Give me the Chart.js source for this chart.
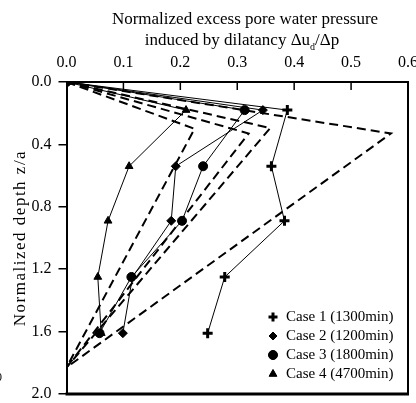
<!DOCTYPE html>
<html>
<head>
<meta charset="utf-8">
<script src="https://cdn.jsdelivr.net/npm/chart.js@4"></script>
<style>
  html, body { margin: 0; padding: 0; background: #fff; overflow: hidden; }
  #wrap { width: 416px; height: 403px; }
</style>
</head>
<body>
<div id="wrap"><canvas id="graph1"></canvas></div>
<script>
// normalized depth z/a of the measuring points
var depths = [0, 0.18, 0.54, 0.89, 1.25, 1.61];
// normalized excess pore water pressure du_d/dp
var case1 = [0, 0.388, 0.36, 0.383, 0.278, 0.248];
var case2 = [0, 0.345, 0.192, 0.184, 0.116, 0.099];
var case3 = [0, 0.313, 0.24, 0.203, 0.114, 0.058];
var case4 = [0, 0.21, 0.11, 0.073, 0.055, 0.061];
var caseLabels = ['Case 1 (1300min)', 'Case 2 (1200min)', 'Case 3 (1800min)', 'Case 4 (4700min)'];
var caseMarkers = ['cross', 'rectRot', 'circle', 'triangle'];

// dashed (predicted) profiles: 0 at surface, peak, back to 0 at base
var dashPeakX = [0.225, 0.32, 0.358, 0.57];
var dashPeakZ = [0.30, 0.33, 0.295, 0.33];
var dashBaseZ = 1.83;

var xTicks = [0, 0.1, 0.2, 0.3, 0.4, 0.5, 0.6];
var yTicks = [0, 0.4, 0.8, 1.2, 1.6, 2.0];

var ctx = document.getElementById('graph1');
var serif = 'Liberation Serif';

var datasets = [];
dashPeakX.forEach(function(px, i) {
    datasets.push({
        label: 'dash' + i,
        data: [{x: 0, y: 0}, {x: px, y: dashPeakZ[i]}, {x: 0, y: dashBaseZ}],
        showLine: true,
        borderColor: '#000',
        borderWidth: 2,
        borderDash: [9, 5],
        pointRadius: 0
    });
});
[case1, case2, case3, case4].forEach(function(vals, i) {
    datasets.push({
        label: caseLabels[i],
        data: vals.map(function(v, j) { return {x: v, y: depths[j]}; }),
        showLine: true,
        borderColor: '#000',
        backgroundColor: '#000',
        borderWidth: 1,
        pointStyle: caseMarkers[i],
        pointRadius: i == 0 ? 5 : 4.5,
        pointBorderWidth: i == 0 ? 3 : 1
    });
});

var extras = {
    id: 'extras',
    afterDraw: function(chart) {
        var c = chart.ctx, a = chart.chartArea, xs = chart.scales.x, ys = chart.scales.y;
        var yb = ys.getPixelForValue(2.0);
        c.save();
        c.strokeStyle = '#000';
        c.fillStyle = '#000';
        // right frame
        c.fillRect(a.right - 1, a.top, 2, yb - a.top + 1);
        // inward ticks on the top axis
        c.lineWidth = 1.5;
        xTicks.slice(1).forEach(function(v) {
            var p = xs.getPixelForValue(v);
            c.beginPath();
            c.moveTo(p, a.top);
            c.lineTo(p, a.top + 8);
            c.stroke();
        });
        // x title (two lines, subscript d)
        c.textBaseline = 'middle';
        c.textAlign = 'center';
        c.font = '17px ' + serif;
        c.fillText('Normalized excess pore water pressure', 245, 20);
        var p1 = 'induced by dilatancy \u0394u', p2 = 'd', p3 = '/\u0394p';
        c.font = '17px ' + serif;
        var w1 = c.measureText(p1).width, w3 = c.measureText(p3).width;
        c.font = '10px ' + serif;
        var w2 = c.measureText(p2).width;
        var x0 = 242 - (w1 + w2 + w3) / 2;
        c.textAlign = 'left';
        c.font = '17px ' + serif;
        c.fillText(p1, x0, 41);
        c.font = '10px ' + serif;
        c.fillText(p2, x0 + w1, 47);
        c.font = '17px ' + serif;
        c.fillText(p3, x0 + w1 + w2, 41);
        // y title, letter spaced
        c.save();
        c.translate(21, 238);
        c.rotate(-Math.PI / 2);
        c.textAlign = 'center';
        c.font = '17px ' + serif;
        c.letterSpacing = '1.5px';
        c.fillText('Normalized depth z/a', 0, 0);
        c.restore();
        // stray label at left edge
        c.font = '12px ' + serif;
        c.textAlign = 'left';
        c.fillText('0', -4, 378);
        // legend
        var rows = [317, 336, 355, 374];
        c.font = '15px ' + serif;
        caseLabels.forEach(function(lab, i) {
            var ds = chart.data.datasets[dashPeakX.length + i];
            c.lineWidth = ds.pointBorderWidth;
            Chart.helpers.drawPoint(c, {pointStyle: caseMarkers[i], radius: i == 1 ? 4 : 4.5, borderWidth: ds.pointBorderWidth}, 273, rows[i]);
            c.fill();
            c.fillText(lab, 286, rows[i]);
        });
        // bottom frame
        c.fillStyle = '#000';
        c.fillRect(a.left - 1, yb - 1.5, a.right - a.left + 2, 3);
        c.restore();
    }
};

var myChart = new Chart(ctx, {
    type: 'scatter',
    data: {datasets: datasets},
    options: {
        responsive: true,
        maintainAspectRatio: false,
        animation: false,
        layout: {padding: {left: 0, right: 7, top: 0, bottom: 9}},
        plugins: {legend: {display: false}, tooltip: {enabled: false}},
        scales: {
            x: {
                type: 'linear',
                position: 'top',
                min: 0, max: 0.6,
                afterBuildTicks: function(s) { s.ticks = xTicks.map(function(v) { return {value: v}; }); },
                afterFit: function(s) { s.height = 82; s.paddingLeft = 0; s.paddingRight = 0; },
                ticks: {
                    color: '#000', padding: 10,
                    font: {family: serif, size: 16},
                    maxRotation: 0,
                    callback: function(v) { return v.toFixed(1); }
                },
                grid: {display: true, drawOnChartArea: false, drawTicks: false},
                border: {color: '#000', width: 2}
            },
            y: {
                type: 'linear',
                reverse: true,
                min: 0, max: 2.0,
                afterBuildTicks: function(s) { s.ticks = yTicks.map(function(v) { return {value: v}; }); },
                afterFit: function(s) { s.width = 66.5; s.paddingTop = 0; s.paddingBottom = 0; },
                ticks: {
                    color: '#000', padding: 7,
                    font: {family: serif, size: 16},
                    callback: function(v) { return v.toFixed(1); }
                },
                grid: {display: true, drawOnChartArea: false, drawTicks: true, tickLength: 8, color: '#000', lineWidth: 1.5},
                border: {color: '#000', width: 2}
            }
        }
    },
    plugins: [extras]
});
</script>
</body>
</html>
